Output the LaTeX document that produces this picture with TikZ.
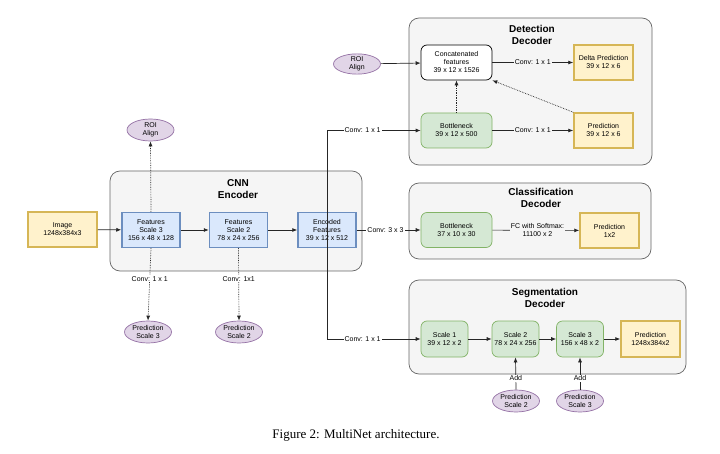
\documentclass[tikz,border=0pt]{standalone}
\usepackage{fontspec}
\setmainfont{Liberation Sans}
\newfontfamily\capfont{Liberation Serif}
\usetikzlibrary{arrows.meta,shapes.geometric}
\definecolor{bluefill}{HTML}{DAE8FC}
\definecolor{blueline}{HTML}{6C8EBF}
\definecolor{yellowfill}{HTML}{FFF2CC}
\definecolor{yellowline}{HTML}{D6B656}
\definecolor{greenfill}{HTML}{D5E8D4}
\definecolor{greenline}{HTML}{82B366}
\definecolor{purplefill}{HTML}{E1D5E7}
\definecolor{purpleline}{HTML}{9673A6}
\definecolor{contfill}{HTML}{F5F5F5}
\definecolor{contline}{HTML}{666666}

\begin{document}
\begin{tikzpicture}[
      x=1pt, y=-1pt,
      container/.style={
          draw=contline, fill=contfill, line width=0.7pt, rounded corners=10pt
      },
      title/.style={
          align=center, font=\fontsize{10}{12}\selectfont\bfseries
      },
      featbox/.style={
          draw=blueline, fill=bluefill, line width=1.5pt,
          minimum width=58pt, minimum height=35pt, inner sep=0pt,
          align=center, font=\fontsize{7}{8}\selectfont
      },
      predbox/.style={
          draw=yellowline, fill=yellowfill, line width=1.5pt,
          minimum width=59pt, minimum height=35pt, inner sep=0pt,
          align=center, font=\fontsize{7}{8}\selectfont
      },
      greenbox/.style={
          draw=greenline, fill=greenfill, line width=0.7pt, rounded corners=6pt,
          minimum width=71pt, minimum height=35pt, inner sep=0pt,
          align=center, font=\fontsize{7}{8}\selectfont
      },
      scalebox/.style={
          greenbox, minimum width=47pt, minimum height=36pt
      },
      whitebox/.style={
          draw=black, fill=white, line width=0.7pt, rounded corners=6pt,
          minimum width=71pt, minimum height=35pt, inner sep=0pt,
          align=center, font=\fontsize{7}{8}\selectfont
      },
      oval/.style={
          draw=purpleline, fill=purplefill, line width=0.7pt, ellipse,
          minimum width=47pt, minimum height=22pt, inner sep=0pt,
          align=center, font=\fontsize{7}{8}\selectfont
      },
      conn/.style={
          draw=black!85, line width=0.7pt, -{Latex[length=5pt,width=4pt]}
      },
      dotconn/.style={
          conn, densely dotted
      },
      lbl/.style={
          fill=white, inner sep=1pt, align=center, font=\fontsize{7}{8}\selectfont
      },
      lblin/.style={
          lbl, fill=contfill
      }
  ]
      \useasboundingbox (0,0) rectangle (720,454);
      \fill[white] (0,0) rectangle (720,454);

      % Conteneurs
      \node[container, minimum width=252pt, minimum height=100pt] (encbox) at (236,221) {};
      \node[container, minimum width=243pt, minimum height=147pt] (detbox) at (530.5,91.5) {};
      \node[container, minimum width=242pt, minimum height=76pt] (clsbox) at (530,221) {};
      \node[container, minimum width=277pt, minimum height=94pt] (segbox) at (547.5,327) {};

      \node[title] (enctitle) at (238,189) {CNN\\Encoder};
      \node[title] (dettitle) at (532,35) {Detection\\Decoder};
      \node[title] (clstitle) at (541,198) {Classification\\Decoder};
      \node[title] (segtitle) at (545,298) {Segmentation\\Decoder};

      % Encodeur
      \node[predbox, minimum width=69pt] (img) at (62.5,229.5) {Image\\1248x384x3};
      \node[featbox] (fs3) at (151,230) {Features\\Scale 3\\156 x 48 x 128};
      \node[featbox] (fs2) at (238.5,230) {Features\\Scale 2\\78 x 24 x 256};
      \node[featbox] (enc) at (327,230) {Encoded\\Features\\39 x 12 x 512};

      \node[oval] (roienc) at (150.5,130) {ROI\\Align};
      \node[oval] (ps3) at (148,332) {Prediction\\Scale 3};
      \node[oval] (ps2) at (239,332) {Prediction\\Scale 2};

      % Decodeur de detection
      \node[oval, minimum height=20pt] (roidet) at (357,64) {ROI\\Align};
      \node[whitebox] (concat) at (456.5,62.5) {Concatenated\\features\\39 x 12 x 1526};
      \node[greenbox] (bndet) at (456.5,130.5) {Bottleneck\\39 x 12 x 500};
      \node[predbox] (delta) at (603.5,62.5) {Delta Prediction\\39 x 12 x 6};
      \node[predbox] (preddet) at (603.5,130.5) {Prediction\\39 x 12 x 6};

      % Decodeur de classification
      \node[greenbox] (bncls) at (456.5,230) {Bottleneck\\37 x 10 x 30};
      \node[predbox] (predcls) at (609.5,230.5) {Prediction\\1x2};

      % Decodeur de segmentation
      \node[scalebox] (sc1) at (444.5,339) {Scale 1\\39 x 12 x 2};
      \node[scalebox] (sc2) at (515.5,339) {Scale 2\\78 x 24 x 256};
      \node[scalebox] (sc3) at (580,339) {Scale 3\\156 x 48 x 2};
      \node[predbox, minimum height=36pt] (predseg) at (650.5,339) {Prediction\\1248x384x2};
      \node[oval] (sps2) at (516,401) {Prediction\\Scale 2};
      \node[oval] (sps3) at (580,401) {Prediction\\Scale 3};

      % Liaisons encodeur
      \draw[conn] (img) -- (fs3);
      \draw[conn] (fs3) -- (fs2);
      \draw[conn] (fs2) -- (enc);
      \draw[dotconn] (fs3.north) -- (roienc.south);
      \draw[dotconn] (fs3.south) -- node[lbl, pos=0.42] {Conv: 1 x 1} (ps3.north);
      \draw[dotconn] (fs2.south) -- node[lbl, pos=0.42] {Conv: 1x1} (ps2.north);

      % Liaisons vers les decodeurs
      \draw[conn] (enc.center) |- node[lbl, pos=0.69] {Conv: 1 x 1} (bndet.west);
      \draw[conn] (enc.east) -- node[lbl, pos=0.45] {Conv: 3 x 3} (bncls.west);
      \draw[conn] (enc.center) |- node[lbl, pos=0.69] {Conv: 1 x 1} (sc1.west);

      % Liaisons detection
      \draw[conn] (roidet) -- (concat);
      \draw[conn] (concat) -- node[lblin] {Conv: 1 x 1} (delta);
      \draw[conn] (bndet) -- node[lblin] {Conv: 1 x 1} (preddet);
      \draw[dotconn] (bndet.north) -- (concat.south);
      \draw[dotconn] (preddet.north west) -- (concat.south east);

      % Liaisons classification
      \draw[conn] (bncls) -- node[lblin, pos=0.52] {FC with Softmax:\\11100 x 2} (predcls);

      % Liaisons segmentation
      \draw[conn] (sc1) -- (sc2);
      \draw[conn] (sc2) -- (sc3);
      \draw[conn] (sc3) -- (predseg);
      \draw[conn] (sps2.north) -- node[lbl, pos=0.35] {Add} (sc2.south);
      \draw[conn] (sps3.north) -- node[lbl, pos=0.35] {Add} (sc3.south);

      % Legende
      \node[font=\capfont\fontsize{13}{15}\selectfont] (caption) at (356,435) {Figure 2: MultiNet architecture.};
  \end{tikzpicture}
\end{document}
